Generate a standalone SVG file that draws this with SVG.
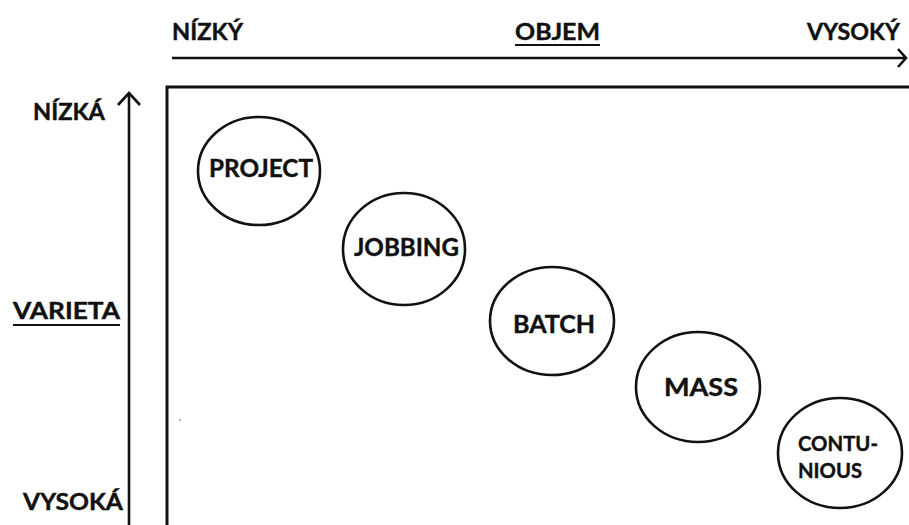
<svg xmlns="http://www.w3.org/2000/svg" width="909" height="525" viewBox="0 0 909 525">
  <style>
    .lbl { font-family: Lato, "Liberation Sans", sans-serif; font-weight: bold; fill: #111; stroke: #111; stroke-width: 0.4; }
    .axis { fill: none; stroke: #111; stroke-width: 2.6; }
    .frame { fill: none; stroke: #111; stroke-width: 3; }
    .node ellipse { fill: #fff; stroke: #111; stroke-width: 2.6; }
    .ul { stroke: #111; stroke-width: 2; }
  </style>
  <rect width="909" height="525" fill="#fff"/>

  <!-- axes and frame -->
  <g id="connectors">
    <path class="axis" d="M172,58 H906 M898,49 L906,58 L898,67"/>
    <path class="axis" d="M129,525 V93 M118,105 L129,93 L140,105"/>
    <path class="frame" d="M167,525 V87 H909"/>
    <circle cx="180" cy="420" r="1" fill="#999"/>
  </g>

  <!-- horizontal axis labels -->
  <g id="volume-labels">
    <text class="lbl" x="172" y="40" font-size="22" textLength="71" lengthAdjust="spacingAndGlyphs">NÍZKÝ</text>
    <text class="lbl" x="515" y="40" font-size="22" textLength="85" lengthAdjust="spacingAndGlyphs">OBJEM</text>
    <line class="ul" x1="515" y1="45" x2="600" y2="45"/>
    <text class="lbl" x="807" y="40" font-size="22" textLength="93" lengthAdjust="spacingAndGlyphs">VYSOKÝ</text>
  </g>

  <!-- vertical axis labels -->
  <g id="variety-labels">
    <text class="lbl" x="33" y="120" font-size="22" textLength="72" lengthAdjust="spacingAndGlyphs">NÍZKÁ</text>
    <text class="lbl" x="13" y="319" font-size="22" textLength="107" lengthAdjust="spacingAndGlyphs">VARIETA</text>
    <line class="ul" x1="13" y1="325" x2="120" y2="325"/>
    <text class="lbl" x="23" y="510" font-size="22" textLength="100" lengthAdjust="spacingAndGlyphs">VYSOKÁ</text>
  </g>

  <!-- process types -->
  <g id="project" class="node">
    <ellipse cx="259" cy="171" rx="61" ry="54"/>
    <text class="lbl" x="209" y="177" font-size="24" textLength="104" lengthAdjust="spacingAndGlyphs">PROJECT</text>
  </g>
  <g id="jobbing" class="node">
    <ellipse cx="404" cy="249" rx="61" ry="56"/>
    <text class="lbl" x="354" y="256" font-size="24" textLength="105" lengthAdjust="spacingAndGlyphs">JOBBING</text>
  </g>
  <g id="batch" class="node">
    <ellipse cx="552" cy="321" rx="62" ry="54"/>
    <text class="lbl" x="513" y="333" font-size="24" textLength="82" lengthAdjust="spacingAndGlyphs">BATCH</text>
  </g>
  <g id="mass" class="node">
    <ellipse cx="698" cy="387" rx="62" ry="55"/>
    <text class="lbl" x="664" y="396" font-size="24" textLength="74" lengthAdjust="spacingAndGlyphs">MASS</text>
  </g>
  <g id="continuous" class="node">
    <ellipse cx="840" cy="453" rx="62" ry="55"/>
    <text class="lbl" x="798" y="451" font-size="20" textLength="80" lengthAdjust="spacingAndGlyphs">CONTU-</text>
    <text class="lbl" x="798" y="478" font-size="20" textLength="64" lengthAdjust="spacingAndGlyphs">NIOUS</text>
  </g>
</svg>
